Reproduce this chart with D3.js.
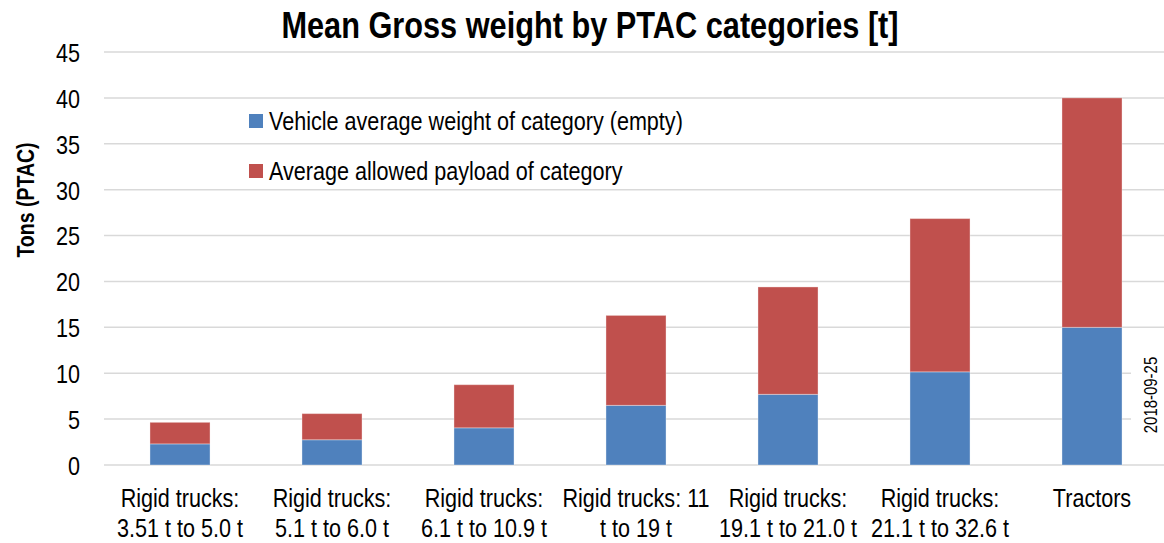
<html>
<head><meta charset="utf-8"></head>
<style>
  html, body { margin: 0; background: #fff; }
  svg { display: block; }
  text { font-family: "Liberation Sans", Arial, sans-serif; fill: #000; }
</style>
<body>
<svg width="1164" height="543"></svg>
<script src="https://cdnjs.cloudflare.com/ajax/libs/d3/7.8.5/d3.min.js"></script>
<script>
  // categories, two lines each as in the original axis
  const categories = [
    ["Rigid trucks:", "3.51 t to 5.0 t"],
    ["Rigid trucks:", "5.1 t to 6.0 t"],
    ["Rigid trucks:", "6.1 t to 10.9 t"],
    ["Rigid trucks: 11", "t to 19 t"],
    ["Rigid trucks:", "19.1 t to 21.0 t"],
    ["Rigid trucks:", "21.1 t to 32.6 t"],
    ["Tractors"]
  ];
  const emptyWeight = [2.3, 2.75, 4.05, 6.5, 7.7, 10.15, 15.0];
  const payload = [2.35, 2.85, 4.7, 9.8, 11.7, 16.7, 25.0];
  const seriesNames = ["Vehicle average weight of category (empty)", "Average allowed payload of category"];
  const colors = ["#4f81bd", "#c0504d"];
  const yTicks = [0, 5, 10, 15, 20, 25, 30, 35, 40, 45];

  const svg = d3.select("svg");
  const plotLeft = 104, plotRight = 1168, plotTop = 52, plotBottom = 465;

  // the original uses a narrow font; squeeze the installed one to match
  const SQUEEZE = 0.83;
  function narrow(sel) {
    sel.each(function() {
      const w = this.getComputedTextLength();
      if (w > 0) {
        this.setAttribute("textLength", w * SQUEEZE);
        this.setAttribute("lengthAdjust", "spacingAndGlyphs");
      }
    });
  }

  const x = d3.scaleBand()
      .domain(d3.range(categories.length))
      .range([plotLeft, plotRight])
      .paddingInner(0.605)
      .paddingOuter(0.3025);

  const y = d3.scaleLinear().domain([0, 45]).range([plotBottom, plotTop]);

  // gridlines
  svg.append("g")
      .selectAll("line")
      .data(yTicks)
      .join("line")
      .attr("x1", plotLeft).attr("x2", 1164)
      .attr("y1", d => y(d)).attr("y2", d => y(d))
      .attr("stroke", "#d9d9d9")
      .attr("stroke-width", 1.5);

  // y axis labels
  const yAxis = svg.append("g")
      .attr("transform", `translate(${plotLeft},0)`)
      .call(d3.axisLeft(y).tickValues(yTicks).tickSize(0).tickPadding(24));
  yAxis.attr("font-family", null).attr("font-size", null);
  yAxis.select(".domain").remove();
  yAxis.selectAll("text")
      .attr("font-size", 26)
      .attr("dy", "0.36em")
      .call(narrow);

  // stacked data
  const rows = categories.map((c, i) => ({ i, empty: emptyWeight[i], payload: payload[i] }));
  const stack = d3.stack().keys(["empty", "payload"])(rows);

  svg.append("g")
      .selectAll("g")
      .data(stack)
      .join("g")
      .attr("fill", (d, k) => colors[k])
      .selectAll("rect")
      .data(d => d)
      .join("rect")
      .attr("x", d => x(d.data.i))
      .attr("width", x.bandwidth())
      .attr("y", d => y(d[1]))
      .attr("height", d => y(d[0]) - y(d[1]))
      .attr("stroke", "#fff")
      .attr("stroke-opacity", 0.35)
      .attr("stroke-width", 1);

  // x labels
  const xl = svg.append("g")
      .selectAll("text")
      .data(categories)
      .join("text")
      .attr("x", (d, i) => x(i) + x.bandwidth() / 2)
      .attr("y", 507)
      .attr("text-anchor", "middle")
      .attr("font-size", 26);
  xl.selectAll("tspan")
      .data(d => d)
      .join("tspan")
      .attr("x", function() { return this.parentNode.getAttribute("x"); })
      .attr("dy", (d, j) => j === 0 ? 0 : 30)
      .text(d => d)
      .call(narrow);

  // legend
  const legend = svg.append("g")
      .selectAll("g")
      .data(seriesNames)
      .join("g")
      .attr("transform", (d, k) => `translate(249,${114 + k * 50})`);
  legend.append("rect")
      .attr("width", 14).attr("height", 14)
      .attr("fill", (d, k) => colors[k]);
  legend.append("text")
      .attr("x", 20).attr("y", 7)
      .attr("dy", "0.35em")
      .attr("font-size", 26)
      .text(d => d)
      .call(narrow);

  // title
  svg.append("text")
      .attr("x", 590).attr("y", 38)
      .attr("text-anchor", "middle")
      .attr("font-size", 37)
      .attr("font-weight", "bold")
      .text("Mean Gross weight by PTAC categories [t]")
      .call(narrow);

  // y axis title
  svg.append("text")
      .attr("transform", "translate(34,200) rotate(-90)")
      .attr("text-anchor", "middle")
      .attr("font-size", 23.5)
      .attr("font-weight", "bold")
      .text("Tons (PTAC)")
      .call(narrow);

  // date stamp
  svg.append("rect")
      .attr("x", 1131).attr("y", 340)
      .attr("width", 33).attr("height", 115)
      .attr("fill", "#fff");
  svg.append("text")
      .attr("transform", "translate(1157,395) rotate(-90)")
      .attr("text-anchor", "middle")
      .attr("font-size", 18)
      .text("2018-09-25")
      .call(narrow);
</script>
</body>
</html>
